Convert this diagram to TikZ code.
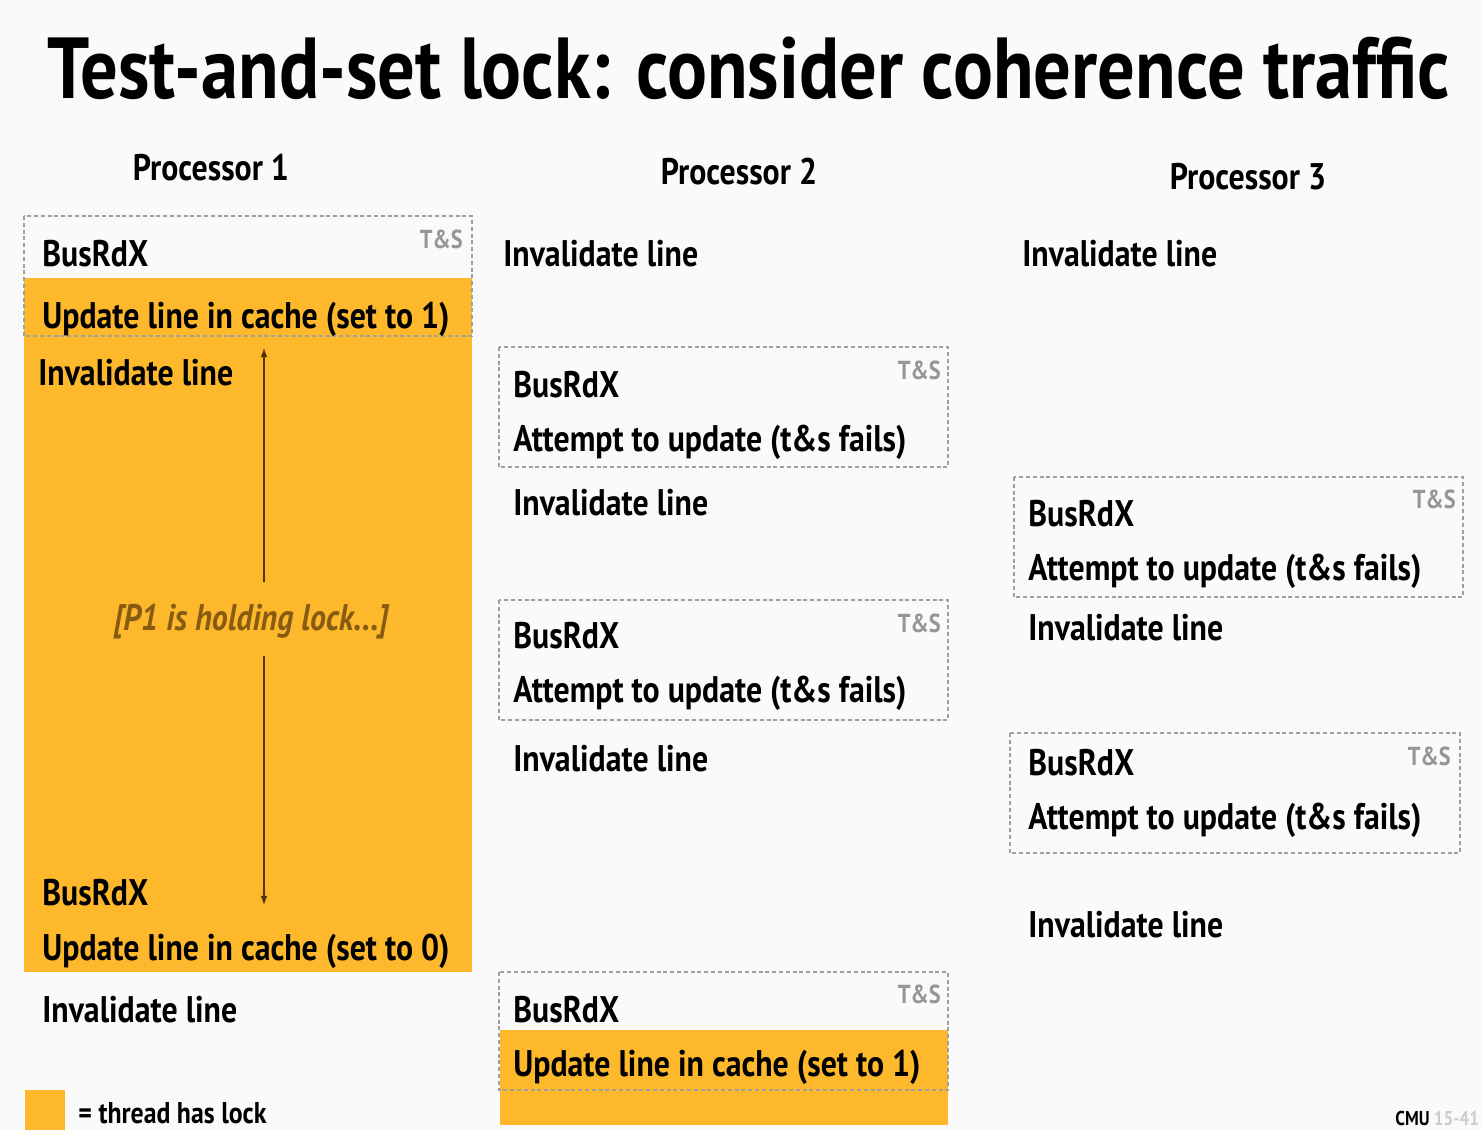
\documentclass[tikz,border=0pt]{standalone}
\usepackage{fontspec}
\setmainfont{PT Sans}[FakeStretch=0.86]
\usetikzlibrary{arrows,positioning}
\definecolor{lockorange}{RGB}{253,184,43}
\definecolor{tsgray}{RGB}{150,150,150}
\definecolor{holdbrown}{RGB}{135,92,18}
\definecolor{slidebg}{RGB}{250,250,250}

\begin{document}
\begin{tikzpicture}[x=0.5pt,y=-0.5pt,
    txt/.style={anchor=base west,inner sep=0pt,font=\fontsize{18.5}{22}\selectfont\bfseries},
    tas/.style={anchor=base east,inner sep=0pt,text=tsgray,font=\fontsize{13}{15}\selectfont\bfseries},
    proc/.style={anchor=base,inner sep=0pt,font=\fontsize{18.5}{22}\selectfont\bfseries},
    tsbox/.style={draw=gray!75,line width=0.7pt,dash pattern=on 2pt off 1.4pt},
    lockfill/.style={fill=lockorange}]
    \useasboundingbox[fill=slidebg] (0,0) rectangle (1481,1130);

    % lock held areas
    \fill[lockfill] (24,278) rectangle (472,972);
    \fill[lockfill] (500,1030) rectangle (948,1125);
    \fill[lockfill] (25,1090) rectangle (65,1130);

    % T&S boxes
    \draw[tsbox] (24,216) rectangle (472,336);
    \draw[tsbox] (499,347) rectangle (948,467);
    \draw[tsbox] (499,600) rectangle (948,720);
    \draw[tsbox] (499,972) rectangle (948,1090);
    \draw[tsbox] (1014,477) rectangle (1463,597);
    \draw[tsbox] (1010,733) rectangle (1460,853);

    \node[anchor=base,inner sep=0pt,font=\fontsize{43.3}{50}\selectfont\bfseries] (title) at (749,98) {Test-and-set lock: consider coherence traffic};

    \node[proc] (proc1) at (211,180) {Processor 1};
    \node[proc] (proc2) at (739,184) {Processor 2};
    \node[proc] (proc3) at (1248,189) {Processor 3};

    % processor 1
    \node[txt] (p1bus1) at (42,266) {BusRdX};
    \node[tas] (p1ts1) at (463,248) {T\&S};
    \node[txt] (p1upd1) at (42,328) {Update line in cache (set to 1)};
    \node[txt] (p1inv1) at (38,385) {Invalidate line};
    \node[inner sep=0pt,text=holdbrown,font=\fontsize{18.5}{22}\selectfont\bfseries\itshape] (p1hold) at (251,622) {[P1 is holding lock...]};
    \node[txt] (p1bus2) at (42,905) {BusRdX};
    \node[txt] (p1upd2) at (42,960) {Update line in cache (set to 0)};
    \node[txt] (p1inv2) at (42,1022) {Invalidate line};
    \coordinate (holdtop) at (264,348);
    \coordinate (holdbot) at (264,905);
    \draw[-latex,black!70!lockorange,line width=0.6pt,shorten <=11pt] (p1hold.north -| holdtop) -- (holdtop);
    \draw[-latex,black!70!lockorange,line width=0.6pt,shorten <=8pt] (p1hold.south -| holdbot) -- (holdbot);

    % processor 2
    \node[txt] (p2inv1) at (503,266) {Invalidate line};
    \node[txt] (p2bus1) at (513,397) {BusRdX};
    \node[tas] (p2ts1) at (941,379) {T\&S};
    \node[txt] (p2att1) at (513,451) {Attempt to update (t\&s fails)};
    \node[txt] (p2inv2) at (513,515) {Invalidate line};
    \node[txt] (p2bus2) at (513,648) {BusRdX};
    \node[tas] (p2ts2) at (941,632) {T\&S};
    \node[txt] (p2att2) at (513,702) {Attempt to update (t\&s fails)};
    \node[txt] (p2inv3) at (513,771) {Invalidate line};
    \node[txt] (p2bus3) at (513,1022) {BusRdX};
    \node[tas] (p2ts3) at (941,1003) {T\&S};
    \node[txt] (p2upd1) at (513,1076) {Update line in cache (set to 1)};

    % processor 3
    \node[txt] (p3inv1) at (1022,266) {Invalidate line};
    \node[txt] (p3bus1) at (1028,526) {BusRdX};
    \node[tas] (p3ts1) at (1456,508) {T\&S};
    \node[txt] (p3att1) at (1028,580) {Attempt to update (t\&s fails)};
    \node[txt] (p3inv2) at (1028,640) {Invalidate line};
    \node[txt] (p3bus2) at (1028,775) {BusRdX};
    \node[tas] (p3ts2) at (1451,765) {T\&S};
    \node[txt] (p3att2) at (1028,829) {Attempt to update (t\&s fails)};
    \node[txt] (p3inv3) at (1028,937) {Invalidate line};

    % legend
    \node[anchor=base west,inner sep=0pt,font=\fontsize{15}{17}\selectfont\bfseries] (legend) at (78,1123) {= thread has lock};
    \node[anchor=base west,inner sep=0pt,font=\fontsize{10}{12}\selectfont\bfseries] (cmu) at (1395,1125) {CMU \textcolor{gray!40}{15-41}};
\end{tikzpicture}
\end{document}
